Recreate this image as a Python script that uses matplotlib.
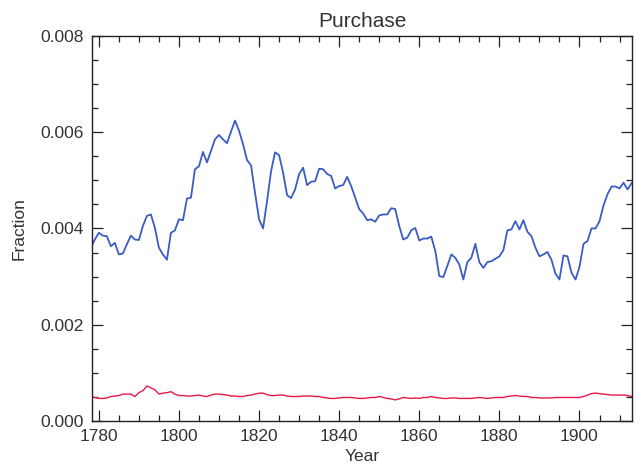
import numpy as np
import matplotlib.pyplot as plt
from matplotlib.ticker import MultipleLocator, FormatStrFormatter

# yearly values
years = np.arange(1778, 1914)

blue = [
    0.00360, 0.00377, 0.00391, 0.00385, 0.00384, 0.00363, 0.00370, 0.00346, 0.00348, 0.00367,
    0.00385, 0.00377, 0.00376, 0.00405, 0.00426, 0.00429, 0.00401, 0.00360, 0.00346, 0.00335,
    0.00391, 0.00396, 0.00419, 0.00417, 0.00462, 0.00464, 0.00523, 0.00529, 0.00559, 0.00537,
    0.00561, 0.00585, 0.00594, 0.00585, 0.00577, 0.00601, 0.00624, 0.00603, 0.00575, 0.00542,
    0.00531, 0.00474, 0.00419, 0.00400, 0.00457, 0.00519, 0.00558, 0.00552, 0.00516, 0.00469,
    0.00463, 0.00481, 0.00513, 0.00526, 0.00490, 0.00497, 0.00498, 0.00524, 0.00523, 0.00513,
    0.00509, 0.00483, 0.00488, 0.00490, 0.00507, 0.00488, 0.00464, 0.00440, 0.00431, 0.00417,
    0.00419, 0.00414, 0.00427, 0.00429, 0.00429, 0.00442, 0.00440, 0.00405, 0.00377, 0.00381,
    0.00396, 0.00401, 0.00375, 0.00379, 0.00379, 0.00383, 0.00353, 0.00301, 0.00299, 0.00322,
    0.00346, 0.00339, 0.00325, 0.00294, 0.00330, 0.00339, 0.00368, 0.00330, 0.00318, 0.00330,
    0.00332, 0.00337, 0.00342, 0.00355, 0.00396, 0.00398, 0.00415, 0.00398, 0.00417, 0.00393,
    0.00384, 0.00360, 0.00342, 0.00346, 0.00351, 0.00335, 0.00306, 0.00294, 0.00344, 0.00342,
    0.00308, 0.00294, 0.00320, 0.00368, 0.00374, 0.00400, 0.00400, 0.00415, 0.00448, 0.00471,
    0.00487, 0.00487, 0.00483, 0.00495, 0.00481, 0.00494,
]

red = [
    0.00051, 0.00049, 0.00047, 0.00047, 0.00048, 0.00051, 0.00052, 0.00053, 0.00056, 0.00056,
    0.00056, 0.00051, 0.00059, 0.00063, 0.00073, 0.00069, 0.00065, 0.00056, 0.00058, 0.00059,
    0.00061, 0.00056, 0.00053, 0.00053, 0.00052, 0.00052, 0.00053, 0.00054, 0.00052, 0.00051,
    0.00054, 0.00056, 0.00056, 0.00055, 0.00054, 0.00052, 0.00052, 0.00051, 0.00051, 0.00053,
    0.00054, 0.00056, 0.00058, 0.00058, 0.00055, 0.00053, 0.00053, 0.00054, 0.00054, 0.00052,
    0.00051, 0.00051, 0.00051, 0.00052, 0.00052, 0.00052, 0.00051, 0.00051, 0.00049, 0.00048,
    0.00047, 0.00047, 0.00048, 0.00049, 0.00049, 0.00049, 0.00048, 0.00047, 0.00047, 0.00048,
    0.00049, 0.00049, 0.00051, 0.00049, 0.00047, 0.00046, 0.00044, 0.00046, 0.00049, 0.00048,
    0.00047, 0.00048, 0.00047, 0.00049, 0.00049, 0.00051, 0.00049, 0.00048, 0.00047, 0.00047,
    0.00048, 0.00048, 0.00047, 0.00047, 0.00047, 0.00047, 0.00048, 0.00049, 0.00048, 0.00047,
    0.00048, 0.00049, 0.00049, 0.00049, 0.00051, 0.00052, 0.00053, 0.00052, 0.00051, 0.00051,
    0.00049, 0.00049, 0.00048, 0.00048, 0.00048, 0.00048, 0.00049, 0.00049, 0.00049, 0.00049,
    0.00049, 0.00049, 0.00049, 0.00051, 0.00054, 0.00057, 0.00058, 0.00057, 0.00056, 0.00055,
    0.00054, 0.00054, 0.00054, 0.00054, 0.00053, 0.00051,
]

plt.rcParams['font.family'] = 'Liberation Sans'
txt = "#333333"

fig = plt.figure(figsize=(6.39, 4.71), dpi=100)
ax = fig.add_axes([0.144, 0.106, 0.845, 0.818])

ax.plot(years, blue, color="#3a5cc4", lw=1.3)
ax.plot(years, red, color="#e8194a", lw=1.0)

ax.set_xlim(1778.3, 1913.1)
ax.set_ylim(0, 0.008)
ax.xaxis.set_major_locator(MultipleLocator(20))
ax.xaxis.set_minor_locator(MultipleLocator(5))
ax.yaxis.set_major_locator(MultipleLocator(0.002))
ax.yaxis.set_minor_locator(MultipleLocator(0.0005))
ax.yaxis.set_major_formatter(FormatStrFormatter("%.3f"))

ax.tick_params(which="both", direction="in", top=True, right=True, color="#222222", width=0.9)
ax.tick_params(which="major", length=8, pad=6, labelsize=12.5, labelcolor=txt)
ax.tick_params(which="minor", length=4)
for s in ax.spines.values():
    s.set_linewidth(1.0)
    s.set_color("#222222")

ax.set_title("Purchase", fontsize=15, color=txt, pad=6)
ax.set_xlabel("Year", fontsize=12.5, color=txt, labelpad=3)
ax.set_ylabel("Fraction", fontsize=12.5, color=txt, labelpad=10)

plt.savefig("out.png", dpi=100)
